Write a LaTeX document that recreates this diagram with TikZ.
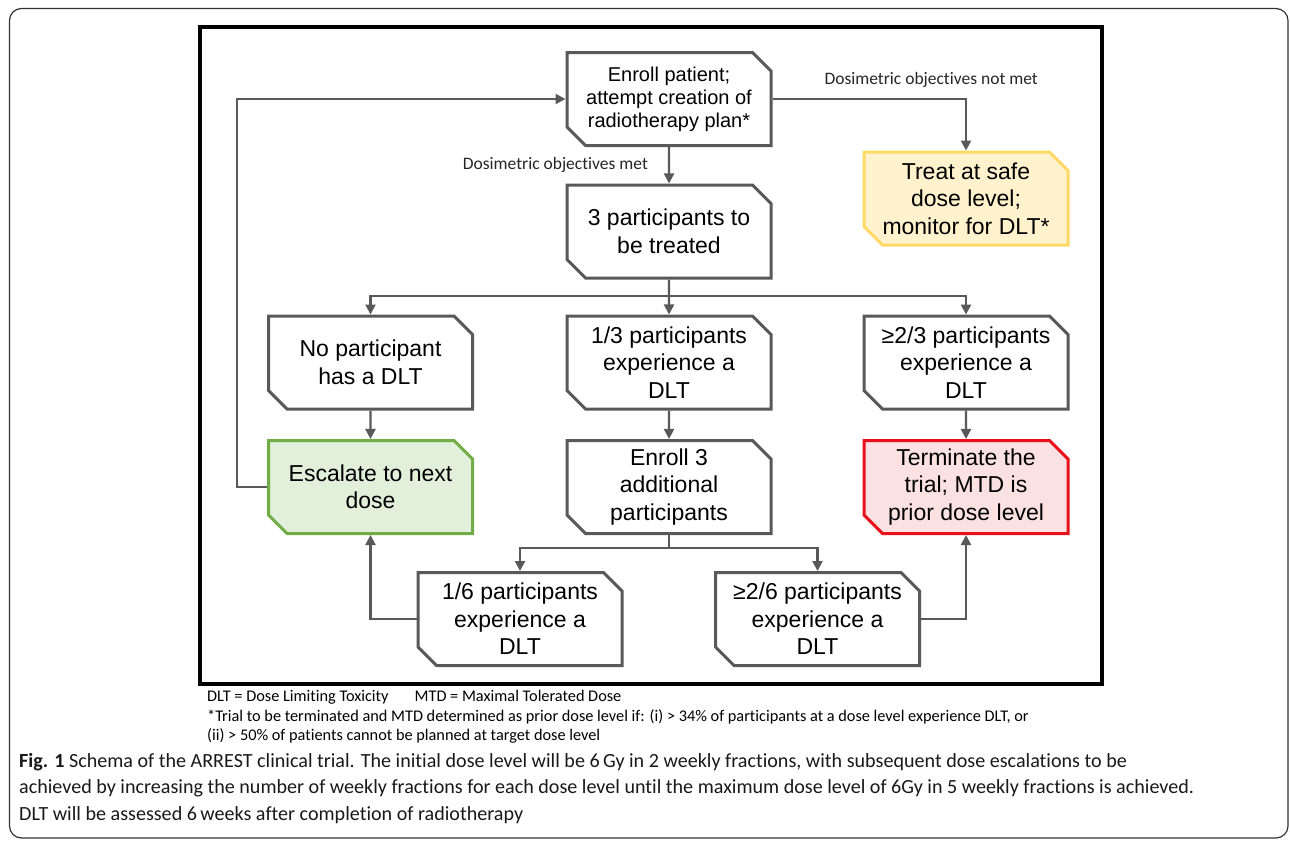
\documentclass[tikz,border=0pt]{standalone}
\usepackage{fontspec}
\setmainfont{Liberation Sans}
\newfontfamily\calibri[Ligatures=NoCommon]{Carlito}
\usetikzlibrary{arrows.meta,shapes.misc,positioning}

\definecolor{boxgray}{HTML}{595959}
\definecolor{escfill}{HTML}{E2EFDA}
\definecolor{escdraw}{HTML}{70AD47}
\definecolor{safefill}{HTML}{FFF2CC}
\definecolor{safedraw}{HTML}{FFD966}
\definecolor{stopfill}{HTML}{FBE1E1}
\definecolor{stopdraw}{HTML}{E8101A}

\tikzset{
    stepbox/.style={
        chamfered rectangle,
        chamfered rectangle corners={north east,south west},
        chamfered rectangle xsep=15pt,
        draw=boxgray, line width=3pt, fill=white,
        minimum width=204pt, minimum height=93pt, inner sep=0pt,
        align=center, font=\fontsize{23}{27.5}\selectfont
    },
    flowline/.style={draw=boxgray, line width=2.2pt},
    flowarrow/.style={flowline, -{Triangle[length=10pt,width=10pt]}},
    pathlabel/.style={font=\calibri\fontsize{17.5}{20}\selectfont, text=black!85, inner sep=0pt},
    notetext/.style={font=\calibri\fontsize{16.3}{19.5}\selectfont, align=left, inner sep=0pt},
    captext/.style={font=\calibri\fontsize{20.1}{26.5}\selectfont, text=black!90, align=left, inner sep=0pt}
}

\begin{document}
\begin{tikzpicture}[x=1pt,y=-1pt]
    % ===== PARAMETERS =====
    \pgfmathsetmacro{\CA}{370.5}  % left column
    \pgfmathsetmacro{\CB}{669}    % middle column
    \pgfmathsetmacro{\CC}{966}    % right column
    \pgfmathsetmacro{\CD}{520}    % lower left
    \pgfmathsetmacro{\CE}{817.5}  % lower right
    \pgfmathsetmacro{\RA}{99}     % enrolment row
    \pgfmathsetmacro{\RB}{231.5}  % three participants
    \pgfmathsetmacro{\RT}{198.5}  % safe dose box
    \pgfmathsetmacro{\RC}{362.5}  % outcomes of 3
    \pgfmathsetmacro{\RD}{487}    % actions
    \pgfmathsetmacro{\RE}{619}    % outcomes of 6
    \pgfmathsetmacro{\YA}{296}    % first split
    \pgfmathsetmacro{\YB}{548}    % second split
    \pgfmathsetmacro{\LX}{237}    % loop back line

    \useasboundingbox (0,0) rectangle (1290,841);

    % ===== FRAMES =====
    \draw[line width=1.2pt, black!80, rounded corners=12pt] (9.5,8.5) rectangle (1288,838);
    \draw[line width=4pt] (200,27) rectangle (1102,684);

    % ===== BOXES =====
    \node[stepbox, font=\fontsize{20}{23}\selectfont] (enroll) at (\CB,\RA)
        {Enroll patient;\\attempt creation of\\radiotherapy plan*};
    \node[stepbox] (three) at (\CB,\RB) {3 participants to\\be treated};
    \node[stepbox, fill=safefill, draw=safedraw] (treat) at (\CC,\RT)
        {Treat at safe\\dose level;\\monitor for DLT*};

    \node[stepbox] (nodlt)  at (\CA,\RC) {No participant\\has a DLT};
    \node[stepbox] (onedlt) at (\CB,\RC) {1/3 participants\\experience a\\DLT};
    \node[stepbox] (twodlt) at (\CC,\RC) {≥2/3 participants\\experience a\\DLT};

    \node[stepbox, fill=escfill, draw=escdraw] (escalate) at (\CA,\RD) {Escalate to next\\dose};
    \node[stepbox] (enrollmore) at (\CB,\RD) {Enroll 3\\additional\\participants};
    \node[stepbox, fill=stopfill, draw=stopdraw] (terminate) at (\CC,\RD)
        {Terminate the\\trial; MTD is\\prior dose level};

    \node[stepbox] (onesix) at (\CD,\RE) {1/6 participants\\experience a\\DLT};
    \node[stepbox] (twosix) at (\CE,\RE) {≥2/6 participants\\experience a\\DLT};

    % ===== CONNECTORS =====
    \coordinate (splitA) at (\CB,\YA);
    \coordinate (splitB) at (\CB,\YB);
    \coordinate (loop)   at (\LX,\RA);

    \draw[flowarrow] (enroll) -- node[pathlabel, midway, left=20pt] {Dosimetric objectives met} (three);
    \draw[flowarrow] (enroll.east) -| node[pathlabel, pos=0.41, above=10pt] {Dosimetric objectives not met} (treat.north);

    \draw[flowline]  (three) -- (splitA);
    \draw[flowarrow] (splitA) -| (nodlt.north);
    \draw[flowarrow] (splitA) -- (onedlt);
    \draw[flowarrow] (splitA) -| (twodlt.north);

    \draw[flowarrow] (nodlt) -- (escalate);
    \draw[flowarrow] (onedlt) -- (enrollmore);
    \draw[flowarrow] (twodlt) -- (terminate);

    \draw[flowarrow] (escalate.west) -| (loop) -- (enroll.west);

    \draw[flowline]  (enrollmore) -- (splitB);
    \draw[flowarrow] (splitB) -| (onesix.north);
    \draw[flowarrow] (splitB) -| (twosix.north);

    \draw[flowarrow] (onesix.west) -| (escalate.south);
    \draw[flowarrow] (twosix.east) -| (terminate.south);

    % ===== TEXT BELOW =====
    \node[notetext, anchor=north west] (notes) at (207,690)
        {DLT = Dose Limiting Toxicity\hspace{1.6em}MTD = Maximal Tolerated Dose\\
         *Trial to be terminated and MTD determined as prior dose level if: (i) > 34\% of participants at a dose level experience DLT, or\\
         (ii) > 50\% of patients cannot be planned at target dose level};
    \node[captext, anchor=north west] (caption) at (19,753)
        {\textbf{Fig. 1} Schema of the ARREST clinical trial. The initial dose level will be 6\,Gy in 2 weekly fractions, with subsequent dose escalations to be\\
         achieved by increasing the number of weekly fractions for each dose level until the maximum dose level of 6Gy in 5 weekly fractions is achieved.\\
         DLT will be assessed 6\,weeks after completion of radiotherapy};
\end{tikzpicture}
\end{document}
